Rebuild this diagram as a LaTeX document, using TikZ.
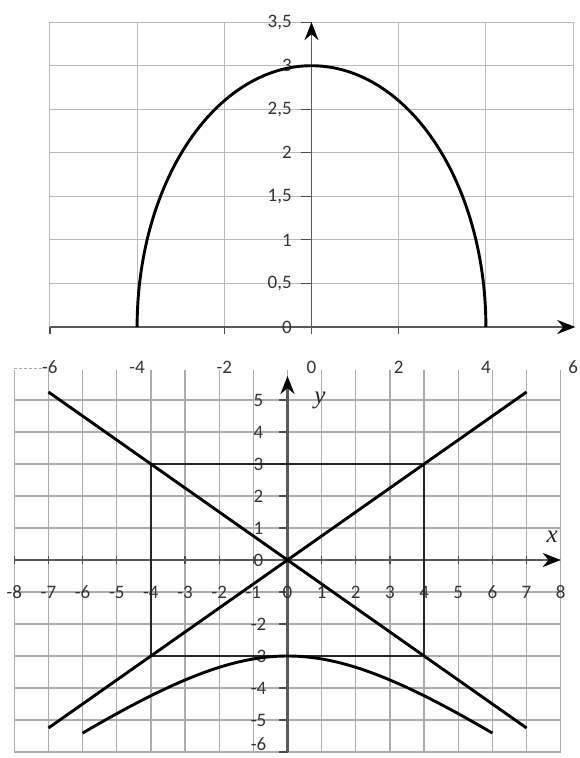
\documentclass[tikz,border=0pt]{standalone}
\usepackage{fontspec}
\setmainfont{Carlito}
\newfontfamily\serifit{Liberation Serif}
\usetikzlibrary{arrows.meta}
\tikzset{
  gridA/.style={draw=gray!55, line width=1pt},
  gridB/.style={draw=gray!65, line width=1.3pt},
  axisA/.style={draw=black!65, line width=2.4pt},
  tickA/.style={draw=black!70, line width=1.2pt},
  curveA/.style={draw=black, line width=2.9pt},
  rectA/.style={draw=black!85, line width=1.6pt},
  labA/.style={text=black!80, font=\fontsize{19}{19}\selectfont, inner sep=0pt},
  varlab/.style={text=black!85, font=\serifit\itshape\fontsize{25}{25}\selectfont, inner sep=0pt},
  tipA/.style={-{Stealth[length=18pt,width=14pt,black]}}
}
\begin{document}
\begin{tikzpicture}[x=1pt,y=1pt]
\useasboundingbox (0,0) rectangle (580,758);
\fill[white] (0,0) rectangle (580,758);

% ---------- top plot ----------
\begin{scope}[shift={(311.5pt,431pt)}, x=43.6pt, y=87.1pt]
  \foreach \x in {-6,-4,...,6} \draw[gridA] (\x,0) -- (\x,3.5);
  \foreach \i in {1,...,7} \draw[gridA] (-6,{\i/2}) -- (6,{\i/2});
  \foreach \x in {-6,-2,2} \draw[tickA] (\x,0) -- (\x,-0.08);
  \foreach \i in {0,...,7} \draw[tickA] (-0.25,{\i/2}) -- (0,{\i/2});
  \draw[axisA, tipA] (-6,0) -- (6.05,0);
  \draw[axisA, line width=1.8pt, tipA] (0,-0.08) -- (0,3.5);
  \foreach \t/\i in {0/0,{0,5}/1,1/2,{1,5}/3,2/4,{2,5}/5,3/6,{3,5}/7}
    \node[labA, anchor=east] (ty\i) at (-0.45,{\i/2}) {\t};
  \foreach \x in {-6,-4,...,6}
    \node[labA] (tx\x) at (\x,-0.46) {\x};
  \draw[curveA] plot[domain=0:180, samples=120] ({4*cos(\x)},{3*sin(\x)});
\end{scope}

% ---------- bottom plot ----------
\begin{scope}[shift={(287.5pt,198pt)}, x=34.15pt, y=32pt]
  \foreach \x in {-8,...,8} \draw[gridB] (\x,-6) -- (\x,5.95);
  \foreach \y in {-6,...,5} \draw[gridB] (-8,\y) -- (8,\y);
  \draw[gridB, densely dashed, line width=0.8pt] (-8,6) -- (-7.1,6);
  \foreach \y in {-6,...,5} \draw[tickA] (-0.25,\y) -- (0,\y);
  \foreach \x in {-8,...,7} \draw[tickA] (\x,-0.12) -- (\x,0.12);
  \draw[axisA, tipA] (-8,0) -- (8,0);
  \draw[axisA, tipA] (0,-6) -- (0,5.75);
  \foreach \x in {-8,...,8}
    \node[labA] (bx\x) at (\x,-1) {\x};
  \foreach \y in {5,4,3,2,1,0,-2,-3,-4,-5}
    \node[labA] (by\y) at (-0.85,\y) {\y};
  \node[labA] (bym6) at (-0.85,-5.75) {-6};
  \draw[rectA] (-4,-3) rectangle (4,3);
  \draw[curveA] (-7,-5.25) -- (7,5.25);
  \draw[curveA] (-7,5.25) -- (7,-5.25);
  \draw[curveA] plot[domain=-6:6, samples=100] (\x,{-3*sqrt(1+\x*\x/16)});
  \node[varlab] (xl) at (7.75,0.72) {x};
  \node[varlab] (yl) at (0.95,5.0) {y};
\end{scope}
\end{tikzpicture}
\end{document}
